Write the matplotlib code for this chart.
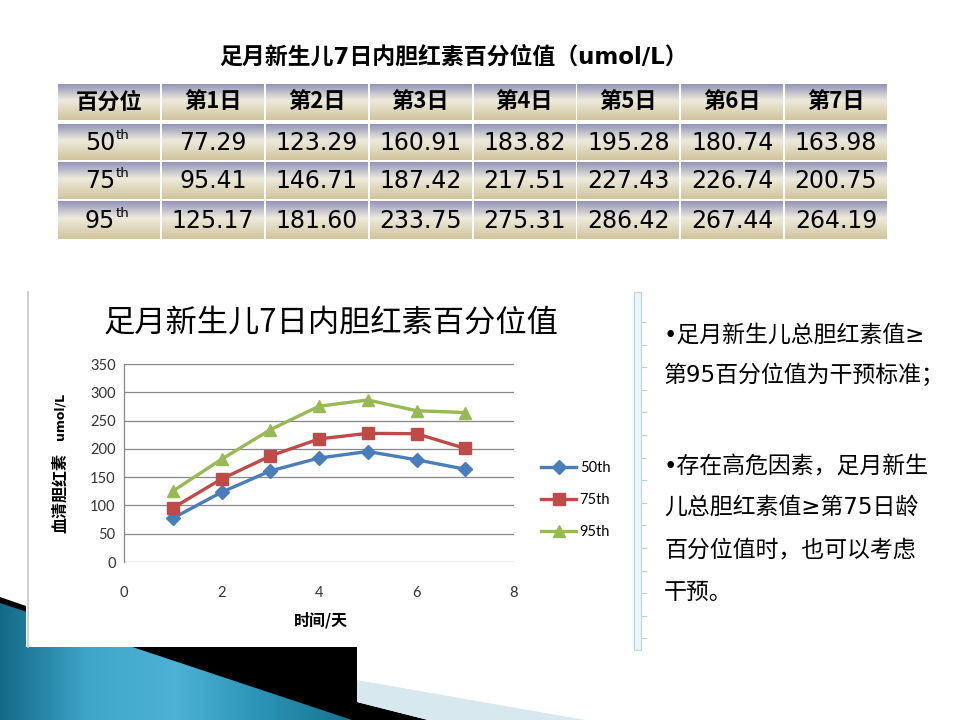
import numpy as np
import matplotlib
matplotlib.use('Agg')
import matplotlib.pyplot as plt
from matplotlib.patches import Polygon, Rectangle
from matplotlib.colors import LinearSegmentedColormap

plt.rcParams['font.family'] = ['Noto Sans CJK SC', 'DejaVu Sans']
latin_first = ['DejaVu Sans', 'Noto Sans CJK SC']

# data
days = [1, 2, 3, 4, 5, 6, 7]
p50 = [77.29, 123.29, 160.91, 183.82, 195.28, 180.74, 163.98]
p75 = [95.41, 146.71, 187.42, 217.51, 227.43, 226.74, 200.75]
p95 = [125.17, 181.60, 233.75, 275.31, 286.42, 267.44, 264.19]
row_names = ['50', '75', '95']
series_names = ['50th', '75th', '95th']
col_labels = ['百分位', '第1日', '第2日', '第3日', '第4日', '第5日', '第6日', '第7日']
table_title = '足月新生儿7日内胆红素百分位值（umol/L）'
chart_title = '足月新生儿7日内胆红素百分位值'
x_label = '时间/天'
y_label_cn = '血清胆红素'
y_label_unit = 'umol/L'
note_lines = ['•足月新生儿总胆红素值≥', '第95百分位值为干预标准；',
              '•存在高危因素，足月新生', '儿总胆红素值≥第75日龄',
              '百分位值时，也可以考虑', '干预。']
note_y = [335, 375, 467, 507, 550, 592]

fig = plt.figure(figsize=(9.6, 7.2), dpi=100)
bg = fig.add_axes([0, 0, 1, 1])
bg.set_xlim(0, 960)
bg.set_ylim(720, 0)
bg.axis('off')

# slide title
bg.text(454, 57, table_title, ha='center', va='center', fontsize=16.5, fontweight='bold',
        family=latin_first)

# table with gradient cells
cell_cmap = LinearSegmentedColormap.from_list('cell', [(0, '#9494bb'), (0.45, '#eeebdc'), (1, '#d1c49c')])
grad = np.linspace(0, 1, 64).reshape(-1, 1)
col_x = np.linspace(57, 888, 9)
row_y = [(84, 120), (124, 160), (162, 199), (201, 239)]
for r, (y0, y1) in enumerate(row_y):
    for c in range(8):
        x0, x1 = col_x[c] + 1, col_x[c + 1] - 1
        bg.imshow(grad, cmap=cell_cmap, extent=(x0, x1, y1, y0), aspect='auto', interpolation='bilinear', zorder=1)
        cx, cy = (x0 + x1) / 2, (y0 + y1) / 2
        if r == 0:
            bg.text(cx, cy, col_labels[c], ha='center', va='center', fontsize=16, fontweight='bold', zorder=3)
        elif c == 0:
            t = bg.text(cx + 6, cy + 1, row_names[r - 1], ha='right', va='center', fontsize=17,
                        family='DejaVu Sans', zorder=3)
            bg.annotate('th', xy=(1, 1), xycoords=t, ha='left', va='top', fontsize=9.5,
                        family='DejaVu Sans', zorder=3, xytext=(0.5, 1.5), textcoords='offset points')
        else:
            vals = [p50, p75, p95][r - 1]
            bg.text(cx, cy + 1, '%.2f' % vals[c - 1], ha='center', va='center', fontsize=17,
                    family='DejaVu Sans', zorder=3)
bg.set_xlim(0, 960)
bg.set_ylim(720, 0)

# bottom-left theme decoration
bg.add_patch(Polygon([(0, 597), (26, 606), (26, 647), (357, 647), (357, 702), (428, 720), (0, 720)],
                     closed=True, facecolor='black', edgecolor='none', zorder=1))
blue_cmap = LinearSegmentedColormap.from_list('blue', ['#136a86', '#3fa6ca', '#4db2d5', '#2a93b5', '#17728f'])
blue_img = bg.imshow(np.linspace(0, 1, 128).reshape(1, -1), cmap=blue_cmap, extent=(0, 352, 720, 600),
                     aspect='auto', interpolation='bilinear', zorder=2)
blue_tri = Polygon([(0, 603), (352, 720), (0, 720)], closed=True, facecolor='none', edgecolor='none')
bg.add_patch(blue_tri)
blue_img.set_clip_path(blue_tri)
bg.add_patch(Polygon([(357, 680), (585, 720), (428, 720), (357, 702)], closed=True,
                     facecolor='#d7e8ef', edgecolor='none', zorder=2))
bg.set_xlim(0, 960)
bg.set_ylim(720, 0)

# chart picture frame
bg.add_patch(Rectangle((26, 292), 609, 355, facecolor='white', edgecolor='none', zorder=3))
bg.plot([28, 28], [292, 647], color='#c8c8c8', lw=1.2, zorder=4)
bg.add_patch(Rectangle((634, 292), 7, 358, facecolor='#eef5f8', edgecolor='#b9d3dd', lw=0.8, zorder=4))
for ty in np.arange(322, 650, 22.6):
    bg.plot([641, 646], [ty, ty], color='#b9d3dd', lw=0.8, zorder=4)

# chart title and axis labels
bg.text(331, 323, chart_title, ha='center', va='center', fontsize=22.5, zorder=5)
bg.text(60, 493, y_label_cn, rotation=90, ha='center', va='center', fontsize=11.5, fontweight='bold', zorder=5)
bg.text(60, 416, y_label_unit, rotation=90, ha='center', va='center', fontsize=9,
        fontweight='bold', family='DejaVu Sans', zorder=5)
bg.text(321, 620, x_label, ha='center', va='center', fontsize=11.5, fontweight='bold', zorder=5)

# right notes
for line, y in zip(note_lines, note_y):
    bg.text(664, y, line, ha='left', va='center', fontsize=16.5, family=latin_first, zorder=5)

# line chart
ax = fig.add_axes([124 / 960, 1 - 562 / 720, 390 / 960, 198 / 720])
ax.set_facecolor('none')
ax.set_xlim(0, 8)
ax.set_ylim(0, 350)
ax.set_xticks([0, 2, 4, 6, 8])
ax.set_yticks(np.arange(0, 351, 50))
ax.grid(axis='y', color='#878787', lw=0.9)
ax.set_axisbelow(True)
for s in ['top', 'right', 'bottom']:
    ax.spines[s].set_visible(False)
ax.spines['left'].set_color('#878787')
ax.spines['left'].set_linewidth(0.9)
ax.tick_params(length=0, labelsize=10.5, labelcolor='#333333', pad=17)
ax.tick_params(axis='y', pad=6)
for lab in ax.get_xticklabels() + ax.get_yticklabels():
    lab.set_family('Lato')

styles = [('#4a7ebb', 'D', 7.5), ('#be4b48', 's', 8.5), ('#98b954', '^', 9)]
handles = []
for vals, name, (col, mk, ms) in zip([p50, p75, p95], series_names, styles):
    h, = ax.plot(days, vals, color=col, lw=2.4, marker=mk, markersize=ms, label=name, zorder=3)
    handles.append(h)

fig.legend(handles=handles, loc='center left', bbox_to_anchor=(541 / 960, 1 - 500 / 720),
           frameon=False, prop={'family': 'Lato', 'size': 10.5}, handlelength=2.4,
           handletextpad=0.25, labelspacing=1.25, borderpad=0, borderaxespad=0)

fig.savefig('out.png', dpi=100)
